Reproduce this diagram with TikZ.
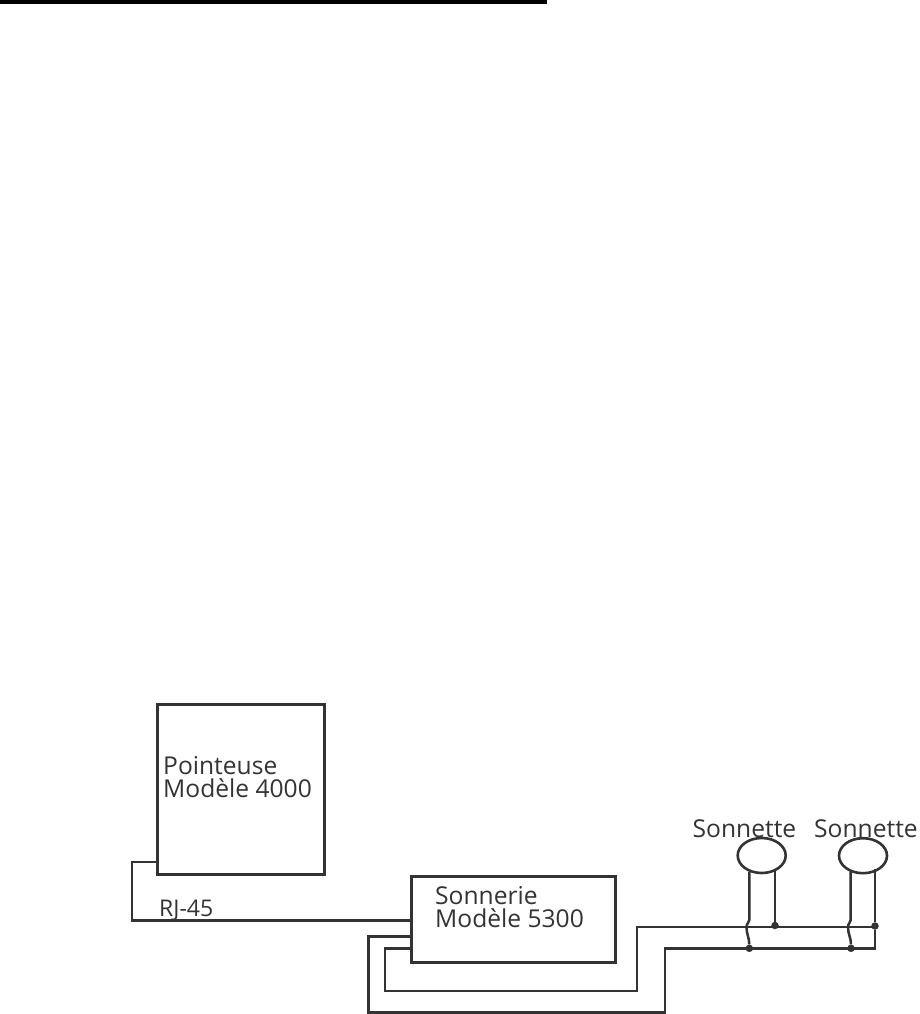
\documentclass[tikz,border=0pt]{standalone}
\usepackage{fontspec}
\setmainfont{Open Sans}
\definecolor{ink}{HTML}{333333}
\tikzset{
  boxnode/.style={draw=ink,line width=2.6pt,inner sep=0pt,outer sep=0pt,rectangle},
  bell/.style={draw=ink,line width=2.6pt,inner sep=0pt,outer sep=0pt,ellipse,minimum width=48pt,minimum height=35pt},
  wire/.style={draw=ink,line width=2.5pt,line join=miter},
  dot/.style={circle,fill=ink,inner sep=0pt,minimum size=7.5pt},
  lab/.style={text=ink,anchor=base west,inner sep=0pt,font=\fontsize{24.6}{28}\selectfont},
  twolab/.style={text=ink,anchor=north west,inner sep=0pt,align=left,font=\fontsize{24.6}{#1}\selectfont},
  smalllab/.style={text=ink,anchor=base west,inner sep=0pt,font=\fontsize{23}{26}\selectfont}
}
\usetikzlibrary{shapes.geometric}
\begin{document}
\begin{tikzpicture}[x=1pt,y=-1pt]
\useasboundingbox (0,0) rectangle (920,1014);
\fill[black] (0,0) rectangle (547,4);
% boxes
\node[boxnode,minimum width=167pt,minimum height=170pt] (pointeuse) at (241.2,789.2) {};
\node[boxnode,minimum width=204pt,minimum height=86pt] (sonnerie) at (513.2,919.7) {};
\node[bell] (bell1) at (761.7,855.5) {};
\node[bell] (bell2) at (863,855.7) {};
% labels
\node[twolab=23] (t1) at (163,756) {Pointeuse\\Modèle 4000};
\node[twolab=23] (t3) at (435,886) {Sonnerie\\Modèle 5300};
\node[lab] (t5) at (692.5,837) {Sonnette};
\node[lab] (t6) at (814,837) {Sonnette};
\node[smalllab] (t7) at (159,916) {RJ-45};
% coordinates
\coordinate (a1) at (132,862);
\coordinate (a2) at (132,920.3);
\coordinate (b1) at (368.3,936.7);
\coordinate (b2) at (368.3,1012.7);
\coordinate (b3) at (665,1012.7);
\coordinate (b4) at (665,948.3);
\coordinate (c1) at (385,948.3);
\coordinate (c2) at (385,991);
\coordinate (c3) at (637,991);
\coordinate (c4) at (637,927);
\coordinate (e) at (875,927);
\coordinate (f) at (875,948.3);
\node[dot] (d1) at (749.3,948.3) {};
\node[dot] (d2) at (775,925.5) {};
\node[dot] (d3) at (851,948.3) {};
\node[dot] (d4) at (875,926) {};
% wires
\draw[wire] (pointeuse.west |- a1) -- (a1) -- (a2) -- (sonnerie.west |- a2);
\draw[wire] (sonnerie.west |- b1) -- (b1) -- (b2) -- (b3) -- (b4) -- (f) -- (d4);
\draw[wire] (sonnerie.west |- c1) -- (c1) -- (c2) -- (c3) -- (c4) -- (e);
% bell wires
\draw[wire] (749.3,872) -- (749.3,920) .. controls (749.3,923) and (746.5,923) .. (746.5,927) .. controls (746.5,934) and (749.3,938) .. (d1);
\draw[wire] (775,871) -- (d2);
\draw[wire] (850.7,872) -- (850.7,920) .. controls (850.7,923) and (848,923) .. (848,927) .. controls (848,934) and (851,938) .. (d3);
\draw[wire] (875,869) -- (d4);
\end{tikzpicture}
\end{document}
